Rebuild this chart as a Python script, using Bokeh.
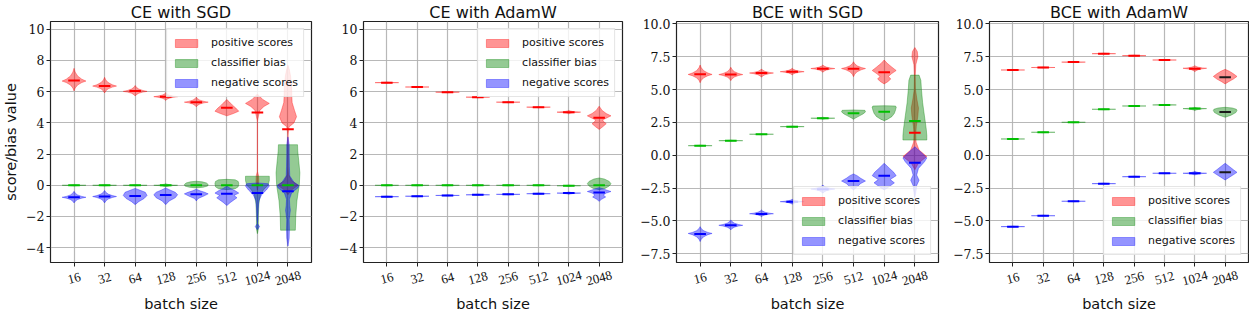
import math
from bokeh.plotting import figure
from bokeh.models import ColumnDataSource, FixedTicker, Range1d, Legend, LegendItem, LinearAxis
from bokeh.layouts import row
from bokeh.embed import file_html
from bokeh.resources import INLINE

batch_sizes = ["16", "32", "64", "128", "256", "512", "1024", "2048"]
titles = ["CE with SGD", "CE with AdamW", "BCE with SGD", "BCE with AdamW"]
series_names = ["positive scores", "classifier bias", "negative scores"]


def dia(lo, pk, hi):
    # violin outline knots (value, relative half width) for a single-peaked violin
    return [(lo, 0.0), (pk - 0.7 * (pk - lo), 0.1), (pk - 0.4 * (pk - lo), 0.3),
            (pk - 0.15 * (pk - lo), 0.65), (pk, 1.0), (pk + 0.15 * (hi - pk), 0.65),
            (pk + 0.4 * (hi - pk), 0.3), (pk + 0.7 * (hi - pk), 0.1), (hi, 0.0)]


def sl(m):
    return dia(m - 0.04, m, m + 0.04)


# ---------------- CE with SGD ----------------
ce_sgd_pos_med = [6.72, 6.36, 6.04, 5.68, 5.33, 4.97, 4.67, 3.60]
ce_sgd_bias_med = [0.0, 0.0, 0.0, 0.0, 0.0, 0.0, 0.0, 0.0]
ce_sgd_neg_med = [-0.77, -0.72, -0.68, -0.62, -0.58, -0.54, -0.50, -0.38]
ce_sgd_pos_violins = [
    dia(6.05, 6.68, 7.5), dia(5.92, 6.36, 6.92), dia(5.72, 6.02, 6.4), dia(5.44, 5.68, 5.93),
    dia(5.03, 5.33, 5.65),
    [(4.45, 0), (4.6, 0.55), (4.75, 1), (4.95, 0.75), (5.15, 0.45), (5.35, 0.2), (5.5, 0)],
    [(-0.3, 0), (0.2, 0.12), (0.6, 0.1), (0.9, 0), (4.1, 0), (4.4, 0.08), (4.8, 0.2), (5.05, 0.55),
     (5.25, 1), (5.5, 0.45), (5.85, 0)],
    [(-0.6, 0), (-0.3, 0.3), (0.0, 0.85), (0.3, 0.3), (0.7, 0.05), (1.2, 0.0), (3.2, 0.0), (3.75, 0.1),
     (4.0, 0.5), (4.4, 0.72), (4.8, 0.55), (5.3, 0.35), (5.8, 0.32), (6.4, 0.3), (7.0, 0.22),
     (7.4, 0.12), (7.7, 0)],
]
ce_sgd_bias_violins = [
    sl(0.0), sl(0.0), sl(0.0), dia(-0.1, 0.0, 0.1),
    [(-0.17, 0), (-0.12, 0.6), (-0.05, 0.95), (0.05, 1), (0.15, 0.85), (0.22, 0.5), (0.26, 0)],
    [(-0.28, 0), (-0.22, 0.7), (-0.1, 0.95), (0.1, 1), (0.25, 0.95), (0.35, 0.7), (0.38, 0)],
    [(-3.1, 0), (-2.8, 0.08), (-2.0, 0.08), (-1.2, 0.12), (-0.6, 0.25), (-0.25, 0.55), (0.0, 0.9),
     (0.3, 1), (0.58, 1), (0.58, 0)],
    [(-2.88, 0), (-2.88, 0.62), (-2.0, 0.65), (-1.0, 0.75), (0.0, 0.95), (0.8, 1.0), (1.6, 0.9),
     (2.2, 0.82), (2.6, 0.8), (2.6, 0)],
]
ce_sgd_neg_violins = [
    dia(-1.13, -0.77, -0.39), dia(-1.13, -0.72, -0.33),
    [(-1.24, 0), (-1.05, 0.3), (-0.85, 0.75), (-0.65, 1), (-0.45, 0.85), (-0.3, 0.35), (-0.2, 0)],
    [(-1.24, 0), (-1.0, 0.3), (-0.8, 0.8), (-0.6, 1), (-0.45, 0.8), (-0.3, 0.35), (-0.17, 0)],
    [(-1.0, 0), (-0.85, 0.15), (-0.7, 0.6), (-0.55, 1), (-0.45, 0.7), (-0.35, 0.3), (-0.25, 0)],
    [(-1.3, 0), (-1.1, 0.3), (-0.8, 0.85), (-0.65, 0.6), (-0.5, 1), (-0.35, 0.7), (-0.2, 0.3), (-0.05, 0)],
    [(-2.85, 0), (-2.65, 0.18), (-2.45, 0), (-2.2, 0.04), (-1.5, 0.07), (-1.0, 0.12), (-0.6, 0.35),
     (-0.3, 0.75), (-0.05, 1), (0.1, 0.9), (0.15, 0)],
    [(-3.9, 0), (-3.4, 0.1), (-2.8, 0.12), (-2.2, 0.1), (-1.6, 0.2), (-1.3, 0.15), (-0.9, 0.12),
     (-0.5, 0.3), (-0.15, 0.85), (0.0, 0.9), (0.2, 0.5), (0.6, 0.15), (1.2, 0.12), (2.0, 0.1),
     (2.6, 0.1), (3.1, 0)],
]

# ---------------- CE with AdamW ----------------
ce_adamw_pos_med = [6.58, 6.30, 5.97, 5.65, 5.33, 5.01, 4.69, 4.33]
ce_adamw_bias_med = [0.0, 0.0, 0.0, 0.0, 0.0, 0.0, -0.03, 0.0]
ce_adamw_neg_med = [-0.73, -0.70, -0.65, -0.61, -0.58, -0.54, -0.50, -0.46]
ce_adamw_pos_violins = [
    sl(6.58), sl(6.30), sl(5.97), sl(5.65), sl(5.33), sl(5.01), dia(4.58, 4.69, 4.8),
    [(3.58, 0), (3.75, 0.3), (3.95, 0.6), (4.1, 0.35), (4.2, 0.3), (4.3, 0.6), (4.45, 1), (4.6, 0.6),
     (4.8, 0.25), (5.07, 0)],
]
ce_adamw_bias_violins = [
    sl(0.0), sl(0.0), sl(0.0), sl(0.0), sl(0.0), sl(0.0), sl(-0.03),
    [(-0.28, 0), (-0.2, 0.5), (-0.05, 0.85), (0.1, 1), (0.25, 0.85), (0.4, 0.45), (0.47, 0)],
]
ce_adamw_neg_violins = [
    sl(-0.73), sl(-0.70), sl(-0.65), sl(-0.61), sl(-0.58), sl(-0.54), dia(-0.58, -0.5, -0.43),
    [(-1.03, 0), (-0.9, 0.2), (-0.75, 0.55), (-0.62, 0.35), (-0.5, 0.6), (-0.4, 1), (-0.3, 0.6),
     (-0.2, 0.2), (-0.15, 0)],
]

# ---------------- BCE with SGD ----------------
bce_sgd_pos_med = [6.16, 6.14, 6.26, 6.36, 6.59, 6.59, 6.31, 1.72]
bce_sgd_bias_med = [0.73, 1.11, 1.60, 2.18, 2.82, 3.20, 3.32, 2.61]
bce_sgd_neg_med = [-5.99, -5.33, -4.47, -3.53, -2.59, -1.96, -1.55, -0.56]
bce_sgd_pos_violins = [
    dia(5.52, 6.15, 6.87), dia(5.68, 6.14, 6.7), dia(5.94, 6.26, 6.57), dia(6.11, 6.36, 6.62),
    dia(6.31, 6.6, 6.87), dia(5.98, 6.6, 7.12),
    [(5.43, 0), (5.6, 0.3), (5.8, 0.55), (6.0, 0.35), (6.2, 0.6), (6.45, 1), (6.7, 0.65), (7.0, 0.25),
     (7.25, 0)],
    [(-1.1, 0), (-0.6, 0.3), (-0.1, 1), (0.4, 0.35), (1.0, 0.1), (1.6, 0.07), (2.2, 0.12), (3.0, 0.25),
     (3.6, 0.3), (4.2, 0.18), (5.0, 0.05), (6.0, 0.03), (6.9, 0.08), (7.5, 0.25), (7.9, 0.2), (8.2, 0)],
]
bce_sgd_bias_violins = [
    sl(0.73), sl(1.11), sl(1.60), sl(2.18), dia(2.74, 2.82, 2.9),
    [(2.74, 0), (2.85, 0.2), (3.0, 0.5), (3.15, 0.8), (3.3, 1), (3.42, 0.95), (3.45, 0)],
    [(2.63, 0), (2.75, 0.3), (2.95, 0.65), (3.2, 0.85), (3.45, 0.95), (3.65, 1), (3.75, 0.95), (3.77, 0)],
    [(1.16, 0), (1.16, 1), (1.5, 1), (2.0, 0.95), (3.0, 0.8), (4.0, 0.65), (5.0, 0.55), (5.7, 0.5),
     (6.1, 0.35), (6.1, 0)],
]
bce_sgd_neg_violins = [
    dia(-6.57, -5.95, -5.43), dia(-5.68, -5.33, -4.92), dia(-4.67, -4.45, -4.16),
    dia(-3.72, -3.53, -3.35), dia(-2.89, -2.57, -2.26),
    [(-2.64, 0), (-2.4, 0.3), (-2.15, 0.6), (-1.96, 1), (-1.75, 0.6), (-1.55, 0.3), (-1.42, 0)],
    [(-2.64, 0), (-2.4, 0.4), (-2.1, 0.85), (-1.85, 0.5), (-1.55, 1), (-1.3, 0.8), (-1.0, 0.45), (-0.61, 0)],
    [(-3.2, 0), (-2.7, 0.1), (-2.3, 0.15), (-1.9, 0.35), (-1.5, 0.15), (-1.0, 0.3), (-0.5, 0.8),
     (-0.2, 1), (0.2, 0.55), (0.65, 0)],
]

# ---------------- BCE with AdamW ----------------
bce_adamw_pos_med = [6.49, 6.68, 7.09, 7.73, 7.58, 7.25, 6.59, 5.93]
bce_adamw_bias_med = [1.24, 1.75, 2.51, 3.50, 3.75, 3.83, 3.55, 3.30]
bce_adamw_neg_med = [-5.43, -4.60, -3.50, -2.16, -1.63, -1.37, -1.37, -1.29]
bce_adamw_pos_violins = [
    sl(6.49), sl(6.68), sl(7.09), sl(7.73), sl(7.58), sl(7.25), dia(6.36, 6.62, 6.82),
    [(5.43, 0), (5.6, 0.3), (5.8, 0.7), (6.0, 1), (6.2, 0.7), (6.4, 0.35), (6.54, 0)],
]
bce_adamw_bias_violins = [
    sl(1.24), sl(1.75), sl(2.51), sl(3.50), sl(3.75), sl(3.83), dia(3.4, 3.55, 3.65),
    [(2.89, 0), (3.05, 0.5), (3.25, 0.9), (3.4, 1), (3.5, 0.95), (3.6, 0.6), (3.65, 0)],
]
bce_adamw_neg_violins = [
    sl(-5.43), sl(-4.60), sl(-3.50), sl(-2.16), sl(-1.63), sl(-1.37), dia(-1.5, -1.37, -1.22),
    [(-1.88, 0), (-1.65, 0.4), (-1.45, 0.75), (-1.3, 1), (-1.1, 0.7), (-0.85, 0.35), (-0.61, 0)],
]

ticks_ce = [-4, -2, 0, 2, 4, 6, 8, 10]
ticks_bce = [-7.5, -5.0, -2.5, 0.0, 2.5, 5.0, 7.5, 10.0]

panels = [
    dict(title=titles[0], pos=ce_sgd_pos_violins, bias=ce_sgd_bias_violins, neg=ce_sgd_neg_violins,
         pm=ce_sgd_pos_med, bm=ce_sgd_bias_med, nm=ce_sgd_neg_med, yr=(-4.95, 10.5), ticks=ticks_ce,
         fmt="{:.0f}", leg="top_right", ylabel=True, L=45, FW=261, R=2),
    dict(title=titles[1], pos=ce_adamw_pos_violins, bias=ce_adamw_bias_violins, neg=ce_adamw_neg_violins,
         pm=ce_adamw_pos_med, bm=ce_adamw_bias_med, nm=ce_adamw_neg_med, yr=(-4.95, 10.5), ticks=ticks_ce,
         fmt="{:.0f}", leg="top_right", ylabel=False, L=50, FW=259, R=2),
    dict(title=titles[2], pos=bce_sgd_pos_violins, bias=bce_sgd_bias_violins, neg=bce_sgd_neg_violins,
         pm=bce_sgd_pos_med, bm=bce_sgd_bias_med, nm=bce_sgd_neg_med, yr=(-8.16, 10.18), ticks=ticks_bce,
         fmt="{:.1f}", leg="bottom_right", ylabel=False, L=52, FW=262, R=2),
    dict(title=titles[3], pos=bce_adamw_pos_violins, bias=bce_adamw_bias_violins, neg=bce_adamw_neg_violins,
         pm=bce_adamw_pos_med, bm=bce_adamw_bias_med, nm=bce_adamw_neg_med, yr=(-8.16, 10.18), ticks=ticks_bce,
         fmt="{:.1f}", leg="bottom_right", ylabel=False, L=49, FW=259, R=1),
]

fill_colors = ["#ff0000", "#008000", "#0000ff"]
median_colors = ["#ff0000", "#00bf00", "#0000ff"]
HW = 0.39
MED = 0.19
SANS = "DejaVu Sans"
SERIF = "DejaVu Serif"
XSERIF = "Liberation Serif"
XFS = 13          # x tick label font size (px)
DIGIT = XFS * 0.5  # digit advance in the x tick font
ROT = math.radians(15)
X0, X1 = -0.77, 7.77


def outline(xpos, knots):
    ys = [k[0] for k in knots]
    ws = [k[1] for k in knots]
    xs = [xpos - w * HW for w in ws] + [xpos + w * HW for w in reversed(ws)]
    return xs, ys + list(reversed(ys))


def centred(s):
    # pad so that the rotated, right-anchored label is centred under its tick
    n = len(s)
    return s + "\u2007" * ((4 - n) // 2) + ("\u2008" if (4 - n) % 2 else "")


figs = []
for pi, pd in enumerate(panels):
    p = figure(frame_width=pd["FW"], frame_height=241, x_range=Range1d(X0, X1),
               y_range=Range1d(*pd["yr"]), output_backend="svg", toolbar_location=None,
               min_border_left=pd["L"], min_border_right=pd["R"], min_border_top=14,
               min_border_bottom=50, title=pd["title"])
    p.title.text_font = SANS
    p.title.text_font_size = "16px"
    p.title.text_font_style = "normal"
    p.title.align = "center"
    p.title.standoff = 0
    p.title.text_line_height = 0.85
    p.title.text_color = "#111111"

    renderers = []
    for si, key in enumerate(["pos", "bias", "neg"]):
        xs_all, ys_all = [], []
        for bi, knots in enumerate(pd[key]):
            xs, ys = outline(bi, knots)
            xs_all.append(xs)
            ys_all.append(ys)
        src = ColumnDataSource(dict(xs=xs_all, ys=ys_all))
        r = p.patches("xs", "ys", source=src, fill_color=fill_colors[si], fill_alpha=0.42,
                      line_color=fill_colors[si], line_alpha=0.35, line_width=1)
        renderers.append(r)

    for si, key in enumerate(["pm", "bm", "nm"]):
        meds = pd[key]
        xpos = list(range(len(meds)))
        cols = [median_colors[si]] * len(meds)
        if pi == 3:
            cols[-1] = "#1a1a1a"
        src = ColumnDataSource(dict(x0=[x - MED for x in xpos], x1=[x + MED for x in xpos],
                                    y=meds, c=cols))
        p.segment(x0="x0", y0="y", x1="x1", y1="y", source=src, line_color="c", line_width=2)

    legend = Legend(items=[LegendItem(label=series_names[i], renderers=[renderers[i]]) for i in range(3)],
                    location=pd["leg"])
    legend.label_text_font = SANS
    legend.label_text_font_size = "11px"
    legend.label_text_color = "#111111"
    legend.glyph_width = 28
    legend.glyph_height = 10
    legend.label_height = 17
    legend.label_standoff = 11
    legend.spacing = 3
    legend.padding = 5
    legend.margin = 7
    legend.border_line_color = "#cccccc"
    legend.background_fill_alpha = 0.8
    p.add_layout(legend)

    # primary x axis: ticks only
    xticks = list(range(len(batch_sizes)))
    p.xaxis.ticker = FixedTicker(ticks=xticks)
    p.xaxis.major_label_overrides = {i: "" for i in xticks}
    p.xaxis.major_label_text_font_size = "0px"
    p.xaxis.major_label_standoff = 0

    # label axis on a shifted range so the rotated labels sit centred under the ticks
    shift_px = 2 * DIGIT * math.cos(ROT)
    shift = shift_px * (X1 - X0) / pd["FW"]
    p.extra_x_ranges = {"lab": Range1d(X0 - shift, X1 - shift)}
    lab = LinearAxis(x_range_name="lab", ticker=FixedTicker(ticks=xticks),
                     major_label_overrides={i: centred(s) for i, s in enumerate(batch_sizes)})
    lab.major_label_orientation = ROT
    lab.major_tick_line_color = None
    lab.major_tick_out = 0
    lab.major_tick_in = 0
    lab.minor_tick_line_color = None
    lab.axis_line_color = None
    lab.major_label_text_font = XSERIF
    lab.major_label_text_font_size = f"{XFS}px"
    lab.major_label_text_color = "#111111"
    lab.major_label_standoff = 8
    lab.axis_label = "batch size"
    lab.axis_label_text_font = SANS
    lab.axis_label_text_font_size = "14.5px"
    lab.axis_label_text_font_style = "normal"
    lab.axis_label_text_color = "#111111"
    lab.axis_label_standoff = -3
    p.add_layout(lab, "below")

    p.yaxis.ticker = FixedTicker(ticks=pd["ticks"])
    p.yaxis.major_label_overrides = {t: pd["fmt"].format(t).replace("-", "\u2212") for t in pd["ticks"]}
    if pd["ylabel"]:
        p.yaxis.axis_label = "score/bias value"
    for ax in [p.xaxis[0], p.yaxis[0]]:
        ax.axis_line_color = None
        ax.major_tick_line_color = "#222222"
        ax.major_tick_out = 4
        ax.major_tick_in = 0
        ax.minor_tick_line_color = None
        ax.major_label_text_color = "#111111"
        ax.axis_label_text_font = SANS
        ax.axis_label_text_font_size = "14.5px"
        ax.axis_label_text_font_style = "normal"
        ax.axis_label_text_color = "#111111"
    p.yaxis.major_label_text_font = SERIF
    p.yaxis.major_label_text_font_size = "12.5px"
    p.yaxis.major_label_standoff = 2
    p.yaxis.axis_label_standoff = 4

    p.xgrid.ticker = p.xaxis[0].ticker
    p.ygrid.ticker = p.yaxis[0].ticker
    p.grid.grid_line_color = "#b0b0b0"
    p.grid.grid_line_width = 1.2
    p.grid.grid_line_alpha = 0.9
    p.outline_line_color = "#222222"
    p.outline_line_width = 1.2
    p.background_fill_color = "white"
    p.border_fill_color = "white"
    figs.append(p)

layout = row(*figs)
open("out.html", "w").write(file_html(layout, INLINE))
